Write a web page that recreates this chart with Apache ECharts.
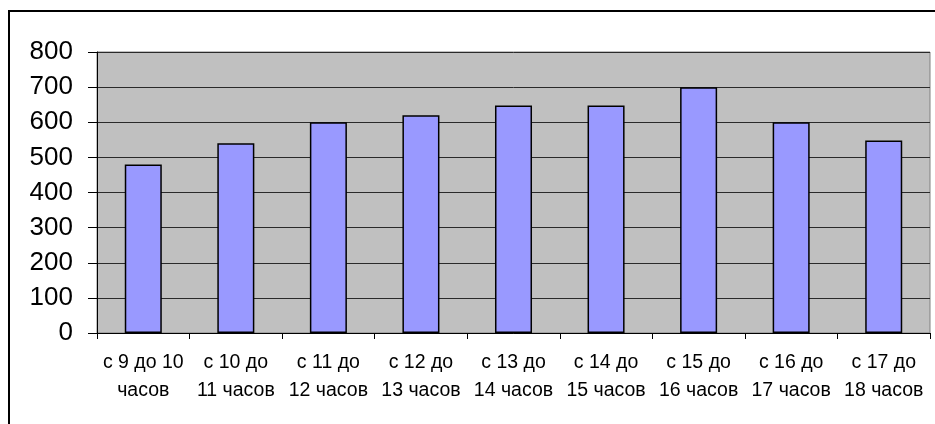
<!DOCTYPE html>
<html>
<head>
<meta charset="utf-8">
<script src="https://cdn.jsdelivr.net/npm/echarts@6/dist/echarts.min.js"></script>
<style>
html,body{margin:0;padding:0;background:#fff;}
#c{width:935px;height:424px;}
</style>
</head>
<body>
<div id="c"></div>
<script>
var categories = ['с 9 до 10\nчасов','с 10 до\n11 часов','с 11 до\n12 часов','с 12 до\n13 часов','с 13 до\n14 часов','с 14 до\n15 часов','с 15 до\n16 часов','с 16 до\n17 часов','с 17 до\n18 часов'];
var values = [480, 540, 600, 620, 648, 648, 700, 600, 548];
var yMin = 0, yMax = 800, yStep = 100;

var chart = echarts.init(document.getElementById('c'));
chart.setOption({
  animation: false,
  backgroundColor: '#fff',
  textStyle: { fontFamily: 'Liberation Sans, Arial, sans-serif' },
  graphic: [{
    type: 'rect',
    shape: { x: 9, y: 11, width: 940, height: 430 },
    style: { fill: 'none', stroke: '#000', lineWidth: 2 },
    silent: true
  }],
  grid: {
    left: 97, right: 5, top: 52, bottom: 91,
    show: true, backgroundColor: '#C0C0C0', borderColor: '#808080', borderWidth: 1
  },
  xAxis: {
    type: 'category',
    data: categories,
    axisLine: { show: true, lineStyle: { color: '#000', width: 1 } },
    axisTick: { show: true, length: 6, alignWithLabel: false, lineStyle: { color: '#000' } },
    axisLabel: {
      interval: 0, margin: 16, color: '#000', fontSize: 19.5, lineHeight: 28,
      fontFamily: 'Liberation Sans, Arial, sans-serif'
    }
  },
  yAxis: {
    type: 'value',
    min: yMin, max: yMax, interval: yStep,
    axisLine: { show: true, lineStyle: { color: '#000', width: 1 } },
    axisTick: { show: true, length: 9, lineStyle: { color: '#000' } },
    axisLabel: { margin: 24, color: '#000', fontSize: 26, fontFamily: 'Liberation Sans, Arial, sans-serif' },
    splitLine: { show: true, lineStyle: { color: '#2a2a2a', width: 1 } }
  },
  series: [{
    type: 'bar',
    data: values,
    barCategoryGap: '60%',
    itemStyle: { color: '#9999FF', borderColor: '#000', borderWidth: 1.5 }
  }]
});
</script>
</body>
</html>
